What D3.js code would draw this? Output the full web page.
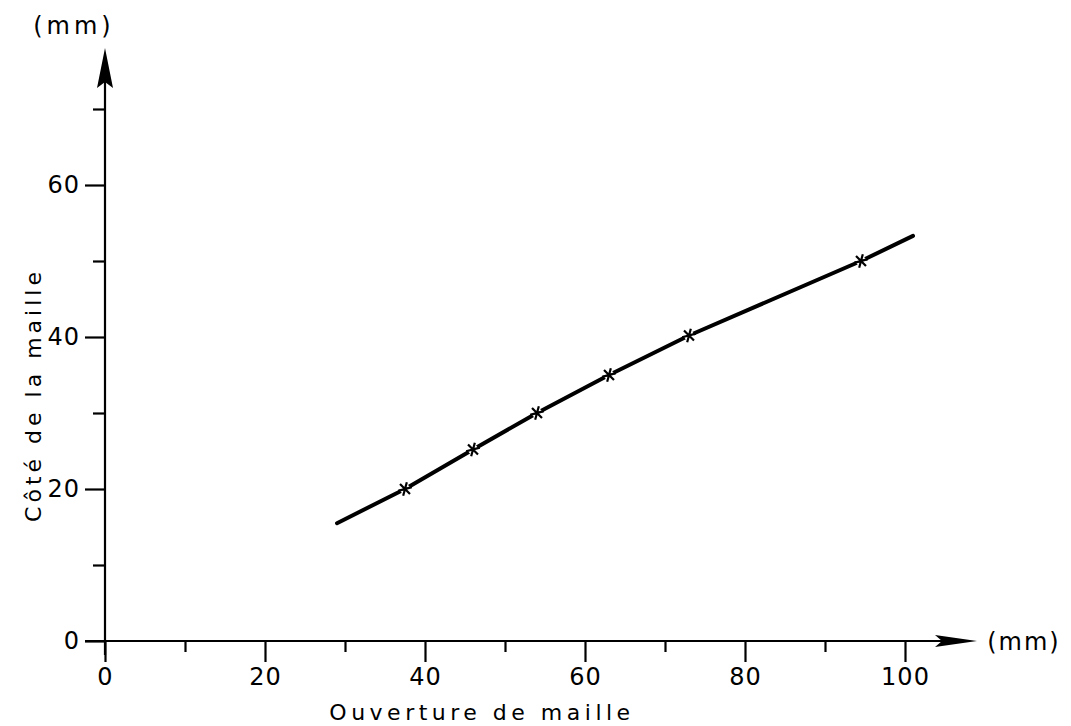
<!DOCTYPE html>
<html>
<head>
<meta charset="utf-8">
<script src="https://cdn.jsdelivr.net/npm/d3@7"></script>
<style>
  body { margin: 0; background: #fff; }
  svg { display: block; }
  text { font-family: "DejaVu Sans", "Liberation Sans", sans-serif; fill: #000; }
  .tick line { stroke: #000; stroke-width: 2.2; }
  .tick text { font-size: 24px; }
</style>
</head>
<body>
<svg id="gfx" width="1071" height="726"></svg>
<script>
// measured points (asterisks)
var pointX = [37.5, 46, 54, 63, 73, 94.5];
var pointY = [20, 25.2, 30, 35, 40.2, 50];

// drawn curve, with its ends beyond the points
var curveX = [29, 37.5, 46, 54, 63, 73, 94.5, 101];
var curveY = [15.5, 20, 25.2, 30, 35, 40.2, 50, 53.3];

var xMajor = [0, 20, 40, 60, 80, 100];
var xMinor = [10, 30, 50, 70, 90];
var yMajor = [0, 20, 40, 60];
var yMinor = [10, 30, 50, 70];

var xTitle = "Ouverture de maille";
var yTitle = "Côté de la maille";
var unit = "(mm)";

var svg = d3.select("#gfx");

var x = d3.scaleLinear().domain([0, 100]).range([105, 905]);
var y = d3.scaleLinear().domain([0, 70]).range([641, 109]);

// axis lines with arrowheads
svg.append("line")
    .attr("x1", x(0)).attr("y1", y(0) + 14)
    .attr("x2", x(0)).attr("y2", 80)
    .attr("stroke", "#000").attr("stroke-width", 2.2);
svg.append("path")
    .attr("d", "M" + x(0) + ",48 L" + (x(0) - 8) + ",88 L" + x(0) + ",82 L" + (x(0) + 8) + ",88 Z")
    .attr("fill", "#000");

svg.append("line")
    .attr("x1", x(0) - 20).attr("y1", y(0))
    .attr("x2", 945).attr("y2", y(0))
    .attr("stroke", "#000").attr("stroke-width", 2.2);
svg.append("path")
    .attr("d", "M977," + y(0) + " L935," + (y(0) - 6) + " L942," + y(0) + " L935," + (y(0) + 6) + " Z")
    .attr("fill", "#000");

// x ticks hang below the axis
var gx = svg.append("g").attr("transform", "translate(0," + y(0) + ")");
gx.append("g")
    .call(d3.axisBottom(x).tickValues(xMajor).tickSize(21).tickSizeOuter(0).tickPadding(6).tickFormat(d3.format("d")))
    .call(g => g.select(".domain").remove());
gx.append("g")
    .call(d3.axisBottom(x).tickValues(xMinor).tickSize(11).tickSizeOuter(0).tickFormat(""))
    .call(g => g.select(".domain").remove());
gx.selectAll("text").attr("font-family", null).attr("font-size", null).attr("letter-spacing", 1);

// y ticks to the left
var gy = svg.append("g").attr("transform", "translate(" + x(0) + ",0)");
gy.append("g")
    .call(d3.axisLeft(y).tickValues(yMajor).tickSize(20).tickSizeOuter(0).tickPadding(5).tickFormat(d3.format("d")))
    .call(g => g.select(".domain").remove());
gy.append("g")
    .call(d3.axisLeft(y).tickValues(yMinor).tickSize(12).tickSizeOuter(0).tickFormat(""))
    .call(g => g.select(".domain").remove());
gy.selectAll("text").attr("font-family", null).attr("font-size", null).attr("letter-spacing", 1);

// curve
var line = d3.line()
    .x(d => x(d[0]))
    .y(d => y(d[1]));

svg.append("path")
    .datum(d3.zip(curveX, curveY))
    .attr("d", line)
    .attr("fill", "none")
    .attr("stroke", "#000")
    .attr("stroke-width", 4)
    .attr("stroke-linecap", "round")
    .attr("stroke-linejoin", "round");

// asterisks
var star = d3.symbol().type(d3.symbolAsterisk).size(140);
var marks = svg.append("g").selectAll("g")
    .data(d3.zip(pointX, pointY))
    .enter().append("g")
    .attr("transform", d => "translate(" + x(d[0]) + "," + y(d[1]) + ") rotate(15)");
marks.append("circle").attr("r", 5).attr("fill", "#fff");
marks.append("path")
    .attr("d", star)
    .attr("fill", "none")
    .attr("stroke", "#000")
    .attr("stroke-width", 2.2);

// titles
svg.append("text")
    .attr("x", 482).attr("y", 720)
    .attr("text-anchor", "middle")
    .attr("font-size", 22)
    .attr("letter-spacing", 4.5)
    .text(xTitle);

svg.append("text")
    .attr("transform", "translate(41,395) rotate(-90)")
    .attr("text-anchor", "middle")
    .attr("font-size", 22)
    .attr("letter-spacing", 4)
    .text(yTitle);

svg.append("text")
    .attr("x", 74).attr("y", 34)
    .attr("text-anchor", "middle")
    .attr("font-size", 24)
    .attr("letter-spacing", 4)
    .text(unit);

svg.append("text")
    .attr("x", 1024).attr("y", 650)
    .attr("text-anchor", "middle")
    .attr("font-size", 24)
    .attr("letter-spacing", 2)
    .text(unit);
</script>
</body>
</html>
